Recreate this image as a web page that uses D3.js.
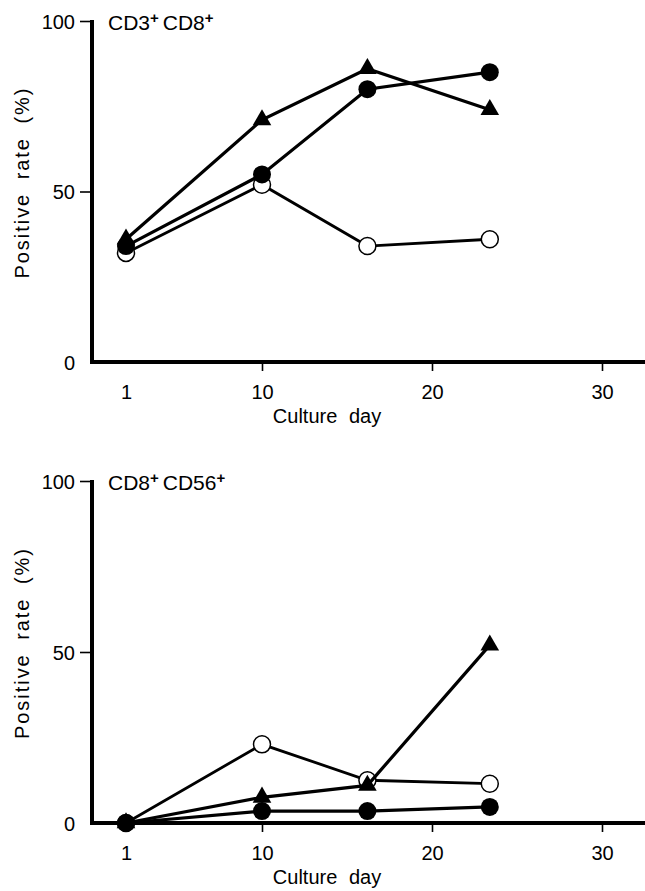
<!DOCTYPE html>
<html>
<head>
<meta charset="utf-8">
<script src="https://cdn.jsdelivr.net/npm/d3@7"></script>
<style>
  html, body { margin: 0; padding: 0; background: #fff; }
  svg { display: block; }
  text { font-family: "Liberation Sans", Arial, sans-serif; fill: #000; }
</style>
</head>
<body>
<svg id="chart" width="645" height="891"></svg>
<script>
// ---- data ----
const days = [1, 10, 16.2, 23.4];
const xTickValues = [1, 10, 20, 30];
const yTickValues = [0, 50, 100];

// panel A: CD3+CD8+
const a_open     = [32, 52, 34, 36];
const a_filled   = [34, 55, 80, 85];
const a_triangle = [36, 71, 86, 74];

// panel B: CD8+CD56+
const b_open     = [0, 23, 12.5, 11.5];
const b_filled   = [0, 3.5, 3.5, 4.7];
const b_triangle = [0, 7.5, 11, 52];

const panelTitles = [["CD3", "CD8"], ["CD8", "CD56"]];
const xLabel = "Culture day";
const yLabel = "Positive rate (%)";

// ---- layout ----
const svg = d3.select("#chart");
const axisX = 92;
const panels = [
  { top: 21, bottom: 362, series: { open: a_open, filled: a_filled, tri: a_triangle }, title: panelTitles[0] },
  { top: 481, bottom: 823, series: { open: b_open, filled: b_filled, tri: b_triangle }, title: panelTitles[1] }
];

const x = d3.scaleLinear().domain([1, 10, 30]).range([126, 262, 602]);

panels.forEach(p => {
  const y = d3.scaleLinear().domain([0, 100]).range([p.bottom, p.top]);
  const g = svg.append("g");

  // y axis
  const yAxis = d3.axisLeft(y).tickValues(yTickValues).tickSize(12).tickPadding(5).tickFormat(d3.format("d"));
  const ya = g.append("g").attr("transform", `translate(${axisX},0)`).call(yAxis);
  ya.select(".domain").remove();
  ya.selectAll(".tick line").attr("stroke", "#000").attr("stroke-width", 1.6);
  ya.selectAll(".tick").filter(d => d === 0).select("line").remove();
  ya.selectAll(".tick text").style("font-size", "20px").attr("dy", "0.36em");
  g.append("line").attr("x1", axisX).attr("x2", axisX)
    .attr("y1", y(100) - 1).attr("y2", y(0) + 2)
    .attr("stroke", "#000").attr("stroke-width", 4);

  // x axis
  const xAxis = d3.axisBottom(x).tickValues(xTickValues).tickSize(9).tickPadding(14).tickFormat(d3.format("d"));
  const xa = g.append("g").attr("transform", `translate(0,${p.bottom})`).call(xAxis);
  xa.select(".domain").remove();
  xa.selectAll(".tick line").attr("stroke", "#000").attr("stroke-width", 1.6);
  xa.selectAll(".tick").filter(d => d === 1).select("line").remove();
  xa.selectAll(".tick text").style("font-size", "20px");
  g.append("line").attr("x1", axisX - 2).attr("x2", 645)
    .attr("y1", y(0)).attr("y2", y(0))
    .attr("stroke", "#000").attr("stroke-width", 4);

  // axis labels
  g.append("text").attr("x", 327).attr("y", p.bottom + 61)
    .attr("text-anchor", "middle").style("font-size", "20px").style("word-spacing", "6px")
    .text(xLabel);
  g.append("text")
    .attr("transform", `translate(29,${(p.top + p.bottom) / 2 - 8}) rotate(-90)`)
    .attr("text-anchor", "middle").style("font-size", "20px")
    .style("word-spacing", "6px")
    .attr("textLength", 190).attr("lengthAdjust", "spacing")
    .text(yLabel);

  // panel title
  const t = g.append("text").attr("x", 108).attr("y", p.top + 9).style("font-size", "21px");
  t.append("tspan").text(p.title[0]);
  t.append("tspan").text("+").style("font-size", "15px").style("font-weight", "bold").attr("dy", -7);
  t.append("tspan").text(p.title[1]).attr("dx", 4).attr("dy", 7);
  t.append("tspan").text("+").style("font-size", "15px").style("font-weight", "bold").attr("dy", -7);

  const line = d3.line().x((d, i) => x(days[i])).y(d => y(d));

  // open circles
  g.append("path").datum(p.series.open).attr("d", line)
    .attr("fill", "none").attr("stroke", "#000").attr("stroke-width", 2.8);
  g.selectAll(null).data(p.series.open).join("circle")
    .attr("cx", (d, i) => x(days[i])).attr("cy", d => y(d)).attr("r", 8.5)
    .attr("fill", "#fff").attr("stroke", "#000").attr("stroke-width", 1.5);

  // filled circles
  g.append("path").datum(p.series.filled).attr("d", line)
    .attr("fill", "none").attr("stroke", "#000").attr("stroke-width", 3.2);
  g.selectAll(null).data(p.series.filled).join("circle")
    .attr("cx", (d, i) => x(days[i])).attr("cy", d => y(d)).attr("r", 9)
    .attr("fill", "#000");

  // triangles
  g.append("path").datum(p.series.tri).attr("d", line)
    .attr("fill", "none").attr("stroke", "#000").attr("stroke-width", 3.2);
  const triSym = d3.symbol().type(d3.symbolTriangle).size(150);
  g.selectAll(null).data(p.series.tri).join("path")
    .attr("d", triSym)
    .attr("transform", (d, i) => `translate(${x(days[i])},${y(d)})`)
    .attr("fill", "#000");
});
</script>
</body>
</html>
